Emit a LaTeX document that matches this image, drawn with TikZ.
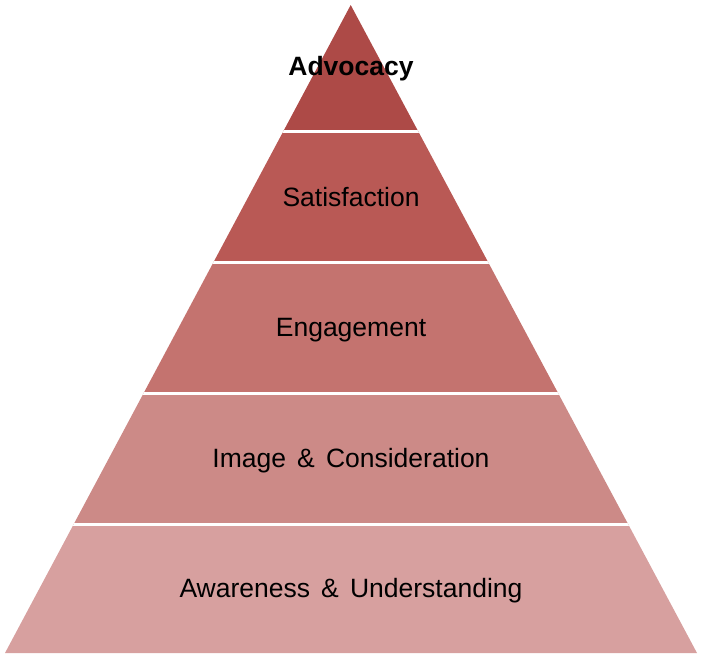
\documentclass[tikz,border=0pt]{standalone}
\usepackage{fontspec}
\setmainfont{Liberation Sans}
\usepackage{xcolor}
\usepackage{tikz}
\usetikzlibrary{calc}
\definecolor{lvlA}{HTML}{AD4A47}
\definecolor{lvlB}{HTML}{B95955}
\definecolor{lvlC}{HTML}{C4736F}
\definecolor{lvlD}{HTML}{CC8A87}
\definecolor{lvlE}{HTML}{D7A09F}
\newcommand{\wsp}{\hspace{0.42em}}
\tikzset{
  gap/.style={draw=white, line width=3pt},
  lab/.style={text=black, anchor=base, font=\fontsize{26.5}{30}\selectfont},
  labb/.style={text=black, anchor=base, font=\fontsize{26.5}{30}\selectfont\bfseries},
}
\begin{document}
\begin{tikzpicture}[x=1pt,y=-1pt]
  \useasboundingbox (0,0) rectangle (701,657);
  \coordinate (apex) at (350.7,5);
  \coordinate (bl) at (5,653);
  \coordinate (br) at (697,653);
  \begin{scope}
    \clip (apex) -- (bl) -- (br) -- cycle;
    \foreach \ya/\yb/\c in {0/131.7/lvlA, 131.7/262.3/lvlB, 262.3/393.3/lvlC,
                            393.3/524.5/lvlD, 524.5/657/lvlE}
      \fill[\c] (0,\ya) rectangle (701,\yb);
    \foreach \y in {131.7,262.3,393.3,524.5}
      \draw[gap] (0,\y) -- (701,\y);
  \end{scope}
  \node[labb] (adv) at (351,75) {Advocacy};
  \node[lab] (sat) at (351,206) {Satisfaction};
  \node[lab] (eng) at (351,336.5) {Engagement};
  \node[lab] (img) at (351,467) {Image\wsp\&\wsp Consideration};
  \node[lab] (awa) at (351,597) {Awareness\wsp\&\wsp Understanding};
\end{tikzpicture}
\end{document}
